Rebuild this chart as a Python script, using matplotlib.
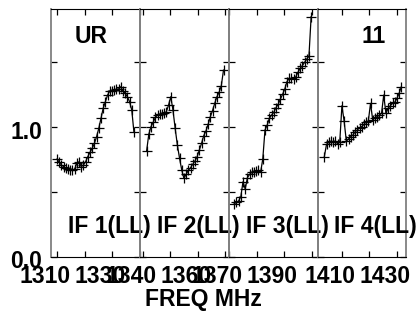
import matplotlib
matplotlib.use("Agg")
import matplotlib.pyplot as plt
import numpy as np
from matplotlib.transforms import ScaledTranslation

plt.rcParams["font.family"] = ["Liberation Sans", "DejaVu Sans"]
plt.rcParams["font.weight"] = "bold"
plt.rcParams["font.size"] = 16.5

# first channel frequency (MHz) of each IF and channel spacing
if_start = [1309.9, 1341.4, 1371.8, 1403.7]
chan_width = 0.8

if1_amp = [0.754, 0.728, 0.708, 0.695, 0.682, 0.677, 0.669, 0.667, 0.677, 0.720,
           0.733, 0.695, 0.708, 0.733, 0.772, 0.805, 0.836, 0.874, 0.926, 0.990,
           1.067, 1.144, 1.195, 1.246, 1.277, 1.277, 1.285, 1.292, 1.292, 1.310,
           1.277, 1.259, 1.233, 1.195, 1.131, 0.959]
if2_amp = [0.815, 0.944, 1.003, 1.036, 1.074, 1.092, 1.097, 1.097, 1.105, 1.118,
           1.169, 1.233, 1.131, 0.990, 0.862, 0.759, 0.669, 0.605, 0.636, 0.667,
           0.687, 0.713, 0.738, 0.772, 0.823, 0.874, 0.933, 0.969, 1.020, 1.079,
           1.126, 1.182, 1.233, 1.267, 1.318, 1.438]
if3_amp = [0.410, 0.420, 0.431, 0.464, 0.579, 0.523, 0.610, 0.636, 0.651, 0.656,
           0.661, 0.667, 0.651, 0.754, 0.977, 1.015, 1.067, 1.092, 1.113, 1.149,
           1.174, 1.215, 1.251, 1.292, 1.349, 1.374, 1.374, 1.369, 1.385, 1.420,
           1.451, 1.472, 1.497, 1.523, 1.544, 1.849]
if4_amp = [0.772, 0.867, 0.882, 0.892, 0.887, 0.892, 0.872, 0.882, 1.164, 1.046,
           0.892, 0.908, 0.926, 0.938, 0.964, 0.977, 0.995, 1.003, 1.020, 1.041,
           1.046, 1.182, 1.054, 1.072, 1.079, 1.092, 1.105, 1.246, 1.105, 1.144,
           1.164, 1.182, 1.190, 1.220, 1.259, 1.310]

if_names = ["IF 1(LL)", "IF 2(LL)", "IF 3(LL)", "IF 4(LL)"]
x_ranges = [(1307.7, 1340.1), (1339.0, 1371.4), (1369.9, 1402.3), (1401.4, 1433.4)]
x_tick_labels = [[1310, 1330], [1340, 1360], [1370, 1390], [1410, 1430]]
y_ticks = [0.0, 0.5, 1.0, 1.5]
y_tick_labels = ["0.0", "", "1.0", ""]
y_max = 1.908

W, H = 419, 313
fig = plt.figure(figsize=(W / 100, H / 100), dpi=100)

panel_left = [51, 140, 229, 318]
panel_width = [89, 89, 89, 88]
amps = [if1_amp, if2_amp, if3_amp, if4_amp]

for i in range(4):
    ax = fig.add_axes([panel_left[i] / W, 56 / H, panel_width[i] / W, 248 / H])
    # transparent background so labels running past a panel edge stay visible
    ax.patch.set_visible(False)
    freq = if_start[i] + chan_width * np.arange(len(amps[i]))
    ax.plot(freq, amps[i], color="black", lw=0.9, marker="+", ms=7.5, mew=0.9)
    ax.set_xlim(*x_ranges[i])
    ax.set_ylim(0, y_max)

    lo, hi = x_ranges[i]
    ticks = np.arange(np.ceil(lo / 10) * 10, hi, 10)
    ax.set_xticks(ticks)
    ax.set_xticklabels([str(int(t)) if int(t) in x_tick_labels[i] else "" for t in ticks])
    ax.set_yticks(y_ticks)
    if i == 0:
        ax.set_yticklabels(y_tick_labels)
    else:
        ax.set_yticklabels([])

    ax.tick_params(direction="in", length=4, width=0.9, top=True, right=True,
                   color="black", labelsize=16.5, pad=5.5)
    ax.tick_params(axis="y", pad=6.5)

    shift_x = ScaledTranslation(-12 / 100, 0, fig.dpi_scale_trans)
    for lab in ax.get_xticklabels():
        lab.set_transform(lab.get_transform() + shift_x)
    shift_y = ScaledTranslation(0, -2.5 / 100, fig.dpi_scale_trans)
    for lab in ax.get_yticklabels():
        lab.set_transform(lab.get_transform() + shift_y)

    for side in ("left", "right"):
        ax.spines[side].set_color("#808080")
        ax.spines[side].set_linewidth(1.3)
    for side in ("top", "bottom"):
        ax.spines[side].set_color("black")
        ax.spines[side].set_linewidth(0.8)

    ax.text(0.655, 0.097, if_names[i], transform=ax.transAxes, ha="center",
            va="baseline", fontweight="bold", clip_on=False, zorder=5)
    if i == 0:
        ax.text(0.449, 0.863, "UR", transform=ax.transAxes, ha="center",
                va="baseline", fontweight="bold")
    if i == 3:
        ax.text(0.63, 0.863, "11", transform=ax.transAxes, ha="center",
                va="baseline", fontweight="bold")

fig.text(203 / W, 7 / H, "FREQ MHz", ha="center", va="baseline", fontweight="bold")

fig.savefig("out.png", dpi=100, facecolor="white")
